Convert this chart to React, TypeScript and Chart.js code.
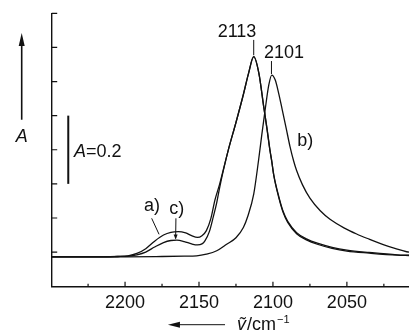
import React, { useEffect, useRef } from "react";
import { Chart, registerables } from "chart.js";

Chart.register(...registerables);

// ---- data (wavenumber in cm^-1, absorbance A) ----
const aWavenumbers = [2250, 2215, 2205, 2198, 2192, 2186, 2180, 2174, 2169, 2164, 2159, 2155, 2151, 2148, 2145, 2142, 2139.2, 2136, 2133.6, 2130.2, 2125, 2120, 2116.5, 2113, 2109.5, 2106.2, 2104, 2102, 2100.9, 2099.5, 2096, 2093, 2090, 2084, 2077, 2070, 2060, 2050, 2035, 2016, 2008];
const aAbsorbance = [0.086, 0.086, 0.087, 0.089, 0.096, 0.11, 0.132, 0.15, 0.158, 0.16, 0.156, 0.148, 0.143, 0.148, 0.163, 0.198, 0.253, 0.3, 0.341, 0.399, 0.48, 0.562, 0.624, 0.673, 0.624, 0.526, 0.462, 0.399, 0.37, 0.328, 0.262, 0.218, 0.19, 0.157, 0.138, 0.126, 0.114, 0.106, 0.099, 0.092, 0.091];

const cWavenumbers = [2250, 2215, 2205, 2198, 2192, 2186, 2180, 2174, 2169, 2165, 2160, 2155, 2151, 2148, 2146, 2143, 2140.3, 2138, 2136, 2133.6, 2130.2, 2125, 2120, 2116.5, 2113, 2109.5, 2106.2, 2104, 2102, 2100.9, 2099.5, 2096, 2093, 2090, 2084, 2077, 2070, 2060, 2050, 2035, 2016, 2008];
const cAbsorbance = [0.086, 0.086, 0.087, 0.088, 0.092, 0.1, 0.115, 0.128, 0.134, 0.135, 0.131, 0.124, 0.121, 0.124, 0.133, 0.16, 0.204, 0.245, 0.29, 0.338, 0.399, 0.48, 0.562, 0.624, 0.673, 0.624, 0.524, 0.46, 0.397, 0.368, 0.326, 0.259, 0.215, 0.187, 0.154, 0.135, 0.123, 0.111, 0.103, 0.097, 0.091, 0.09];

const bWavenumbers = [2250, 2200, 2175, 2160, 2151.6, 2145, 2138, 2131.3, 2125, 2120, 2117, 2113, 2109.7, 2107.5, 2105, 2102.8, 2100.8, 2098.5, 2096.2, 2093.7, 2091, 2088.5, 2086, 2084, 2080, 2075, 2068, 2061.4, 2052, 2043.4, 2035, 2025.4, 2017, 2009.6, 2008];
const bAbsorbance = [0.086, 0.086, 0.087, 0.088, 0.089, 0.094, 0.104, 0.123, 0.142, 0.172, 0.205, 0.27, 0.37, 0.445, 0.526, 0.59, 0.619, 0.605, 0.567, 0.517, 0.462, 0.41, 0.367, 0.339, 0.297, 0.258, 0.221, 0.196, 0.171, 0.153, 0.138, 0.122, 0.11, 0.101, 0.1];

const xMajorTicks = [2200, 2150, 2100, 2050];
const xMinorTicks = [2225, 2175, 2125, 2075, 2025];
const yTickValues = [0.1, 0.2, 0.3, 0.4, 0.5, 0.6, 0.7, 0.8];

const peakA = 2113;
const peakB = 2101;

const INK = "#111111";
const FONT = '"Liberation Sans", Arial, "DejaVu Sans", sans-serif';

function toPoints(xs: number[], ys: number[]) {
  return xs.map((x, i) => ({ x, y: ys[i] }));
}

const annotationPlugin = {
  id: "spectrumAnnotations",
  afterDraw(chart: any) {
    const { ctx, chartArea: area } = chart;
    const xs = chart.scales.x;
    const ys = chart.scales.y;
    const X = (v: number) => xs.getPixelForValue(v);
    const Y = (v: number) => ys.getPixelForValue(v);
    ctx.save();
    ctx.strokeStyle = INK;
    ctx.fillStyle = INK;

    // inward ticks
    ctx.lineWidth = 1.2;
    ctx.beginPath();
    for (const t of yTickValues) {
      const y = Y(t);
      ctx.moveTo(area.left, y);
      ctx.lineTo(area.left + 5.5, y);
    }
    for (const t of xMajorTicks) {
      const x = X(t);
      ctx.moveTo(x, area.bottom);
      ctx.lineTo(x, area.bottom - 4.5);
    }
    for (const t of xMinorTicks) {
      const x = X(t);
      ctx.moveTo(x, area.bottom);
      ctx.lineTo(x, area.bottom - 2.5);
    }
    ctx.stroke();

    // peak markers
    ctx.lineWidth = 1;
    ctx.beginPath();
    ctx.moveTo(X(peakA), Y(0.677));
    ctx.lineTo(X(peakA), Y(0.722));
    ctx.moveTo(X(peakB), Y(0.622));
    ctx.lineTo(X(peakB), Y(0.66));
    ctx.stroke();

    ctx.font = `18px ${FONT}`;
    ctx.textAlign = "center";
    ctx.textBaseline = "middle";
    ctx.fillText(String(peakA), X(2124.3), Y(0.746));
    ctx.fillText(String(peakB), X(2092.5), Y(0.683));
    ctx.fillText("b)", X(2078.1), Y(0.426));
    ctx.fillText("a)", X(2181.8), Y(0.236));
    ctx.fillText("c)", X(2165.1), Y(0.226));

    // pointers for a) and c)
    ctx.lineWidth = 1;
    ctx.beginPath();
    ctx.moveTo(X(2182), Y(0.199));
    ctx.lineTo(X(2177), Y(0.152));
    ctx.moveTo(X(2165.6), Y(0.199));
    ctx.lineTo(X(2165.8), Y(0.14));
    ctx.stroke();
    {
      const tx = X(2165.8);
      const ty = Y(0.137);
      ctx.beginPath();
      ctx.moveTo(tx, ty);
      ctx.lineTo(tx - 2, ty - 5);
      ctx.lineTo(tx + 2, ty - 5);
      ctx.closePath();
      ctx.fill();
    }

    // scale bar A = 0.2
    ctx.lineWidth = 2;
    ctx.beginPath();
    ctx.moveTo(X(2238.4), Y(0.3));
    ctx.lineTo(X(2238.4), Y(0.5));
    ctx.stroke();
    ctx.textAlign = "left";
    let tx = X(2234.5);
    const sy = Y(0.394);
    ctx.font = `italic 18px ${FONT}`;
    ctx.fillText("A", tx, sy);
    tx += ctx.measureText("A").width;
    ctx.font = `18px ${FONT}`;
    ctx.fillText("=0.2", tx, sy);

    // y-axis label: A with upward arrow
    const ax = area.left - 30;
    ctx.font = `italic 18px ${FONT}`;
    ctx.textAlign = "center";
    ctx.fillText("A", ax, Y(0.437));
    ctx.lineWidth = 1.6;
    ctx.beginPath();
    ctx.moveTo(ax, Y(0.488));
    ctx.lineTo(ax, Y(0.72));
    ctx.stroke();
    ctx.beginPath();
    ctx.moveTo(ax, Y(0.742));
    ctx.lineTo(ax - 3, Y(0.742) + 13);
    ctx.lineTo(ax + 3, Y(0.742) + 13);
    ctx.closePath();
    ctx.fill();

    // x-axis title: arrow + wavenumber / cm^-1
    const ty2 = area.bottom + 38.5;
    const tip = X(2171);
    ctx.lineWidth = 1;
    ctx.beginPath();
    ctx.moveTo(tip + 10, ty2);
    ctx.lineTo(X(2132.4), ty2);
    ctx.stroke();
    ctx.beginPath();
    ctx.moveTo(tip, ty2);
    ctx.lineTo(tip + 12, ty2 - 3);
    ctx.lineTo(tip + 12, ty2 + 3);
    ctx.closePath();
    ctx.fill();

    ctx.textAlign = "left";
    ctx.textBaseline = "alphabetic";
    const base = ty2 + 5.5;
    let px = X(2124.3);
    ctx.font = `italic 18px ${FONT}`;
    ctx.fillText("\u1E7D", px, base);
    px += ctx.measureText("\u1E7D").width + 1;
    ctx.font = `18px ${FONT}`;
    ctx.fillText("/cm", px, base);
    px += ctx.measureText("/cm").width + 1;
    ctx.font = `11px ${FONT}`;
    ctx.fillText("\u22121", px, base - 7);

    ctx.restore();
  },
};

export default function App() {
  const canvasRef = useRef<HTMLCanvasElement | null>(null);

  useEffect(() => {
    const canvas = canvasRef.current;
    if (!canvas) return;
    const lineStyle = {
      borderColor: INK,
      borderWidth: 1.3,
      pointRadius: 0,
      fill: false,
      cubicInterpolationMode: "monotone" as const,
    };
    const chart = new Chart(canvas, {
      type: "line",
      data: {
        datasets: [
          { label: "a)", data: toPoints(aWavenumbers, aAbsorbance), ...lineStyle },
          { label: "c)", data: toPoints(cWavenumbers, cAbsorbance), ...lineStyle },
          { label: "b)", data: toPoints(bWavenumbers, bAbsorbance), ...lineStyle },
        ],
      },
      options: {
        responsive: false,
        animation: false,
        devicePixelRatio: 1,
        layout: { padding: { top: 13.3, left: 0, right: 0, bottom: 0 } },
        plugins: { legend: { display: false }, tooltip: { enabled: false } },
        scales: {
          x: {
            type: "linear",
            reverse: true,
            min: 2008,
            max: 2249.6,
            afterFit: (s: any) => {
              s.height = 44.8;
            },
            border: { display: true, color: INK, width: 1.4 },
            grid: { display: true, drawOnChartArea: false, drawTicks: false },
            ticks: {
              stepSize: 50,
              includeBounds: false,
              padding: 6,
              color: INK,
              font: { family: FONT, size: 18 },
              maxRotation: 0,
              callback: (v: any) => (xMajorTicks.includes(Number(v)) ? String(v) : ""),
            },
          },
          y: {
            type: "linear",
            min: 0,
            max: 0.8,
            afterFit: (s: any) => {
              s.width = 51.7;
            },
            border: { display: true, color: INK, width: 1.4 },
            grid: { display: true, drawOnChartArea: false, drawTicks: false },
            ticks: { display: false, stepSize: 0.1 },
          },
        },
      },
      plugins: [annotationPlugin],
    });
    return () => chart.destroy();
  }, []);

  return (
    <div style={{ position: "fixed", left: 0, top: 0, width: 409, height: 331, background: "#fff" }}>
      <canvas ref={canvasRef} width={409} height={331} style={{ width: 409, height: 331, display: "block" }} />
    </div>
  );
}
